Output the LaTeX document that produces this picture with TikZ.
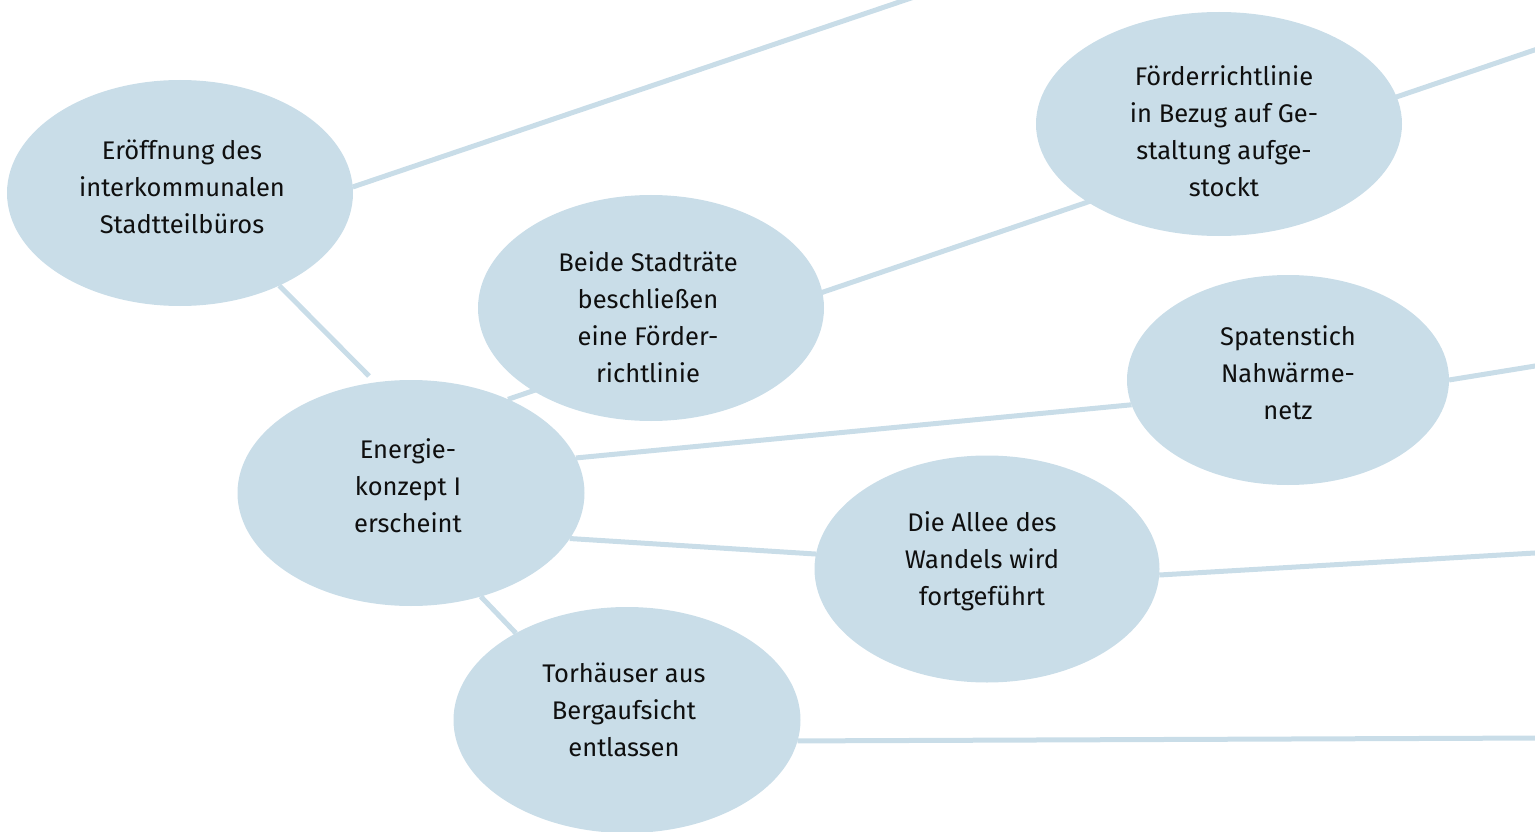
\documentclass[tikz,border=0pt]{standalone}
\usepackage{fontspec}
\setmainfont{Fira Sans}
\usetikzlibrary{shapes.geometric,backgrounds}
\definecolor{bub}{RGB}{201,221,232}
\definecolor{ink}{RGB}{15,15,15}
\begin{document}
\begin{tikzpicture}[x=1pt,y=-1pt,
  bubble/.style={ellipse,fill=bub,inner sep=0pt,outer sep=0pt},
  txt/.style={align=center,font=\fontsize{25.5}{37}\selectfont,text=ink,inner sep=0pt},
  link/.style={draw=bub,line width=5pt}]
\useasboundingbox (0,0) rectangle (1535,832);
% bubbles
\node[bubble,minimum width=346pt,minimum height=226pt] (eroeff) at (180,193) {};
\node[bubble,minimum width=346pt,minimum height=226pt] (beide) at (651,308) {};
\node[bubble,minimum width=366pt,minimum height=224pt] (foerder) at (1219,124) {};
\node[bubble,minimum width=322pt,minimum height=210pt] (spaten) at (1288,380) {};
\node[bubble,minimum width=347pt,minimum height=226pt] (energie) at (411,493) {};
\node[bubble,minimum width=345pt,minimum height=227pt] (allee) at (987,569) {};
\node[bubble,minimum width=347pt,minimum height=226pt] (torh) at (627,720) {};
% free ends
\coordinate (c1) at (920,-5);
\coordinate (c2) at (369,376);
\coordinate (c3) at (1545,46.4);
\coordinate (c4) at (1545,364.4);
\coordinate (c5) at (1545,552.4);
\coordinate (c6) at (1545,738);
% connectors
\begin{scope}[on background layer]
\draw[link] (eroeff.2) -- (c1);
\draw[link] (eroeff.-43) -- (c2);
\draw[link] (energie.44) -- (c3);
\draw[link] (energie.12) -- (spaten.189);
\draw[link] (spaten.east) -- (c4);
\draw[link] (energie.-16.7) -- (allee.175);
\draw[link] (allee.-2) -- (c5);
\draw[link] (energie.-56.7) -- (torh.142);
\draw[link] (torh.-7) -- (c6);
\end{scope}
% texts
\node[txt] (t1) at (182,187) {Eröffnung des\\interkommunalen\\Stadtteilbüros};
\node[txt] (t2) at (648,317) {Beide Stadträte\\beschließen\\eine Förder-\\richtlinie};
\node[txt] (t3) at (1224,131) {Förderrichtlinie\\in Bezug auf Ge-\\staltung aufge-\\stockt};
\node[txt] (t4) at (1288,373) {Spatenstich\\Nahwärme-\\netz};
\node[txt] (t5) at (408,486) {Energie-\\konzept I\\erscheint};
\node[txt] (t6) at (982,561) {Die Allee des\\Wandels wird\\fortgeführt};
\node[txt] (t7) at (624,710) {Torhäuser aus\\Bergaufsicht\\entlassen};
\end{tikzpicture}
\end{document}
